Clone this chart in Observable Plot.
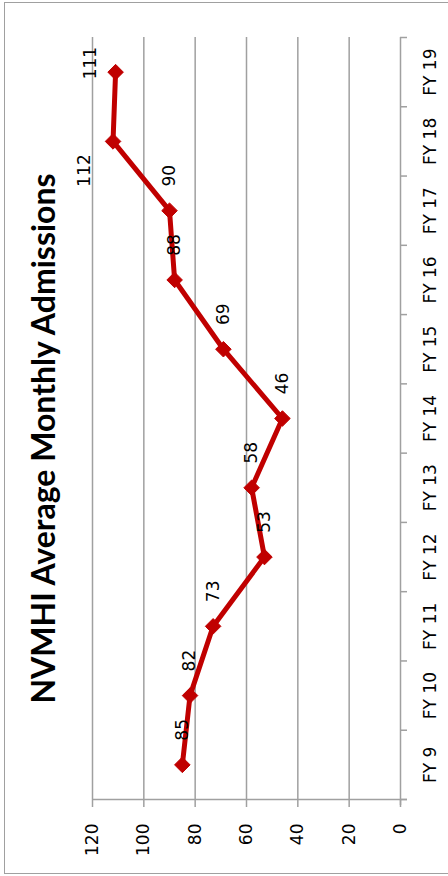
<!DOCTYPE html>
<html><head><meta charset="utf-8">
<script src="https://cdn.jsdelivr.net/npm/d3@7"></script>
<script src="https://cdn.jsdelivr.net/npm/@observablehq/plot@0.6"></script>
<style>
html,body{margin:0;padding:0;background:#fff;overflow:hidden;width:448px;height:876px}
#wrap{position:relative;width:448px;height:876px}
#border{position:absolute;left:4px;top:2px;width:470px;height:872px;border:1.5px solid #a0a0a0;box-sizing:border-box;}
#chart{position:absolute;left:0;top:0}
</style></head><body><div id="wrap"><div id="border"></div><div id="chart"></div></div>
<script>
const title = "NVMHI Average Monthly Admissions";
const categories = ["FY 9","FY 10","FY 11","FY 12","FY 13","FY 14","FY 15","FY 16","FY 17","FY 18","FY 19"];
const admissions = [85, 82, 73, 53, 58, 46, 69, 88, 90, 112, 111];
const valueTicks = [0, 20, 40, 60, 80, 100, 120];

const rows = categories.map((c, i) => ({cat: c, pos: i, value: admissions[i]}));
const bounds = d3.range(categories.length + 1).map(i => i - 0.5);
const grid = "#a0a0a0";
const red = "#C00000";
const n = categories.length;
const F = "DejaVu Sans";
const FS = 17;

const chart = Plot.plot({
  width: 448, height: 876,
  marginLeft: 92, marginRight: 48, marginTop: 37, marginBottom: 77,
  x: {domain: [0, 120], reverse: true, axis: null},
  y: {domain: [-0.5, n - 0.5], axis: null},
  style: {fontFamily: F, fontSize: FS + "px", background: "transparent", color: "#000"},
  marks: [
    Plot.ruleX(valueTicks.filter(v => v > 0), {x: d => d, stroke: grid, strokeWidth: 1.5}),
    Plot.ruleX([0], {x: d => d, stroke: grid, strokeWidth: 1.5, insetBottom: -6}),
    Plot.ruleY([-0.5], {y: d => d, stroke: grid, strokeWidth: 1.5, insetRight: -7}),
    Plot.ruleY(bounds, {y: d => d, x1: 0, x2: 0, insetRight: -7, stroke: grid, strokeWidth: 1.5}),
    Plot.ruleX(valueTicks, {x: d => d, y1: -0.5, y2: -0.5, insetBottom: -8, stroke: grid, strokeWidth: 1.5}),
    Plot.text(valueTicks, {x: d => d, frameAnchor: "bottom", dy: 24, rotate: -90, textAnchor: "end", lineAnchor: "middle", text: d => String(d), fontFamily: F, fontSize: FS}),
    Plot.text(rows, {frameAnchor: "right", y: "pos", text: "cat", dx: 30, rotate: -90, textAnchor: "middle", lineAnchor: "middle", fontFamily: F, fontSize: FS}),
    Plot.line(rows, {x: "value", y: "pos", stroke: red, strokeWidth: 5}),
    Plot.dot(rows, {x: "value", y: "pos", symbol: "diamond2", r: 7, fill: red, stroke: red, strokeWidth: 1}),
    Plot.text(rows, {filter: d => d.pos < n - 2, x: "value", y: "pos", text: d => String(d.value), dy: -35, rotate: -90, textAnchor: "middle", lineAnchor: "middle", fontFamily: F, fontSize: FS}),
    Plot.text(rows, {filter: d => d.pos === n - 2, x: "value", y: "pos", text: d => String(d.value), dx: -28, dy: 29, rotate: -90, textAnchor: "middle", lineAnchor: "middle", fontFamily: F, fontSize: FS}),
    Plot.text(rows, {filter: d => d.pos === n - 1, x: "value", y: "pos", text: d => String(d.value), dx: -25, dy: -9, rotate: -90, textAnchor: "middle", lineAnchor: "middle", fontFamily: F, fontSize: FS}),
    Plot.text([title], {frameAnchor: "left", text: d => d, dx: -48, dy: 20, rotate: -90, textAnchor: "middle", lineAnchor: "middle", fontFamily: "Lato", fontWeight: "bold", fontSize: 32})
  ]
});
document.getElementById("chart").appendChild(chart);
</script>
</body></html>
